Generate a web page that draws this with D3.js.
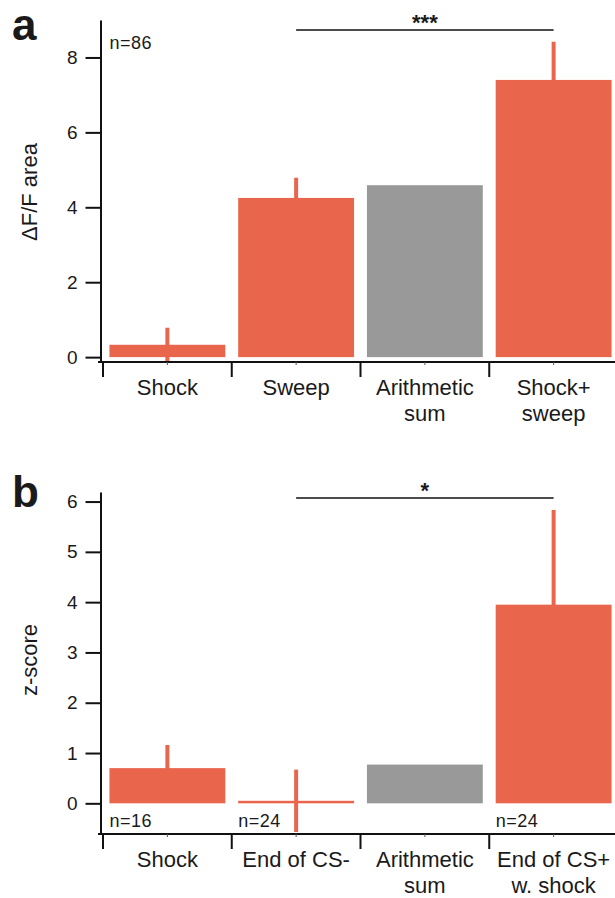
<!DOCTYPE html>
<html>
<head>
<meta charset="utf-8">
<script src="https://cdn.jsdelivr.net/npm/d3@7"></script>
<style>
  html, body { margin: 0; padding: 0; background: #fff; }
  svg text { font-family: "Liberation Sans", Arial, sans-serif; fill: #1a1a1a; }
</style>
</head>
<body>
<svg id="chart" width="615" height="898"></svg>
<script>
// ---------- data ----------
const categoriesA = [["Shock"], ["Sweep"], ["Arithmetic", "sum"], ["Shock+", "sweep"]];
const valuesA = [0.33, 4.25, 4.59, 7.40];
const errorsA = [0.455, 0.54, 0, 1.02];
const kindsA = ["measured", "measured", "sum", "measured"];
const ticksA = [0, 2, 4, 6, 8];
const nLabelsA = ["n=86", "", "", ""];

const categoriesB = [["Shock"], ["End of CS-"], ["Arithmetic", "sum"], ["End of CS+", "w. shock"]];
const valuesB = [0.70, 0.05, 0.77, 3.95];
const errorsB = [0.46, 0.62, 0, 1.88];
const kindsB = ["measured", "measured", "sum", "measured"];
const ticksB = [0, 1, 2, 3, 4, 5, 6];
const nLabelsB = ["n=16", "n=24", "", "n=24"];

const colors = { measured: "#E9654B", sum: "#999999" };

const svg = d3.select("#chart");

function panel(opts) {
  const g = svg.append("g");
  const idx = d3.range(opts.values.length);
  const x = d3.scaleBand().domain(idx).range([103, 618]).paddingInner(0.1).paddingOuter(0.05);
  const y = d3.scaleLinear().domain(opts.domain).range([opts.bottom, opts.top]);
  const half = x.step() * x.paddingInner() / 2;

  // bars
  g.selectAll("rect.bar").data(idx).join("rect")
    .attr("class", "bar")
    .attr("x", i => x(i))
    .attr("width", x.bandwidth())
    .attr("y", i => y(Math.max(0, opts.values[i])))
    .attr("height", i => Math.abs(y(opts.values[i]) - y(0)))
    .attr("fill", i => colors[opts.kinds[i]]);

  // error bars
  g.selectAll("line.err").data(idx.filter(i => opts.errors[i] > 0)).join("line")
    .attr("class", "err")
    .attr("x1", i => x(i) + x.bandwidth() / 2)
    .attr("x2", i => x(i) + x.bandwidth() / 2)
    .attr("y1", i => y(opts.values[i] - opts.errors[i]))
    .attr("y2", i => y(opts.values[i] + opts.errors[i]))
    .attr("stroke", colors.measured)
    .attr("stroke-width", 4);

  // y axis
  const yAxis = d3.axisLeft(y).tickValues(opts.ticks).tickFormat(d3.format("d"))
    .tickSize(15).tickPadding(8).tickSizeOuter(0);
  const ya = g.append("g").attr("transform", "translate(100.5,0)").call(yAxis);
  ya.select(".domain").attr("stroke", "#111").attr("stroke-width", 2);
  ya.selectAll(".tick line").attr("stroke", "#111").attr("stroke-width", 2);
  ya.selectAll(".tick text").attr("font-size", 19).attr("font-family", "Liberation Sans, Arial, sans-serif").attr("fill", "#1a1a1a");

  // x axis line
  g.append("line").attr("x1", 98).attr("x2", 615)
    .attr("y1", opts.bottom).attr("y2", opts.bottom)
    .attr("stroke", "#111").attr("stroke-width", 2);
  // boundary ticks
  g.selectAll("line.bt").data(idx).join("line").attr("class", "bt")
    .attr("x1", i => x(i) - half).attr("x2", i => x(i) - half)
    .attr("y1", opts.bottom).attr("y2", opts.bottom + 15)
    .attr("stroke", "#111").attr("stroke-width", 2);
  // tiny center ticks
  g.selectAll("line.ct").data(idx).join("line").attr("class", "ct")
    .attr("x1", i => x(i) + x.bandwidth() / 2).attr("x2", i => x(i) + x.bandwidth() / 2)
    .attr("y1", opts.bottom).attr("y2", opts.bottom + 3)
    .attr("stroke", "#555").attr("stroke-width", 1);

  // category labels
  const lab = g.selectAll("text.cat").data(idx).join("text").attr("class", "cat")
    .attr("x", i => x(i) + x.bandwidth() / 2)
    .attr("y", opts.bottom + 33)
    .attr("text-anchor", "middle")
    .attr("font-size", 22);
  lab.each(function(i) {
    const t = d3.select(this);
    opts.categories[i].forEach((line, k) => {
      t.append("tspan").attr("x", x(i) + x.bandwidth() / 2).attr("dy", k === 0 ? 0 : 26).text(line);
    });
  });

  // n labels
  g.selectAll("text.n").data(idx.filter(i => opts.nLabels[i])).join("text").attr("class", "n")
    .attr("x", i => x(i))
    .attr("y", opts.nY)
    .attr("font-size", 18)
    .attr("letter-spacing", 0.5)
    .text(i => opts.nLabels[i]);

  // y label
  g.append("text")
    .attr("transform", `translate(37,${opts.ylabelY}) rotate(-90)`)
    .attr("text-anchor", "middle")
    .attr("font-size", 22)
    .text(opts.ylabel);

  // panel letter
  g.append("text").attr("x", 12).attr("y", opts.letterY)
    .attr("font-size", 44).attr("font-weight", "bold").attr("fill", "#111")
    .text(opts.letter);

  // significance bracket
  const c1 = x(opts.sig[0]) + x.bandwidth() / 2, c2 = x(opts.sig[1]) + x.bandwidth() / 2;
  g.append("line").attr("x1", c1).attr("x2", c2)
    .attr("y1", opts.sigY).attr("y2", opts.sigY)
    .attr("stroke", "#111").attr("stroke-width", 1.5);
  g.append("text").attr("x", (c1 + c2) / 2).attr("y", opts.sigY)
    .attr("text-anchor", "middle").attr("font-size", 22).attr("font-weight", "bold")
    .text(opts.sigText);
}

panel({
  values: valuesA, errors: errorsA, kinds: kindsA, categories: categoriesA,
  ticks: ticksA, nLabels: nLabelsA, domain: [-0.13, 9.0], bottom: 362, top: 20,
  nY: 49, ylabel: "\u0394F/F area", ylabelY: 192, letter: "a", letterY: 40,
  sig: [1, 3], sigY: 30, sigText: "***"
});

panel({
  values: valuesB, errors: errorsB, kinds: kindsB, categories: categoriesB,
  ticks: ticksB, nLabels: nLabelsB, domain: [-0.61, 6.19], bottom: 834, top: 492,
  nY: 827, ylabel: "z-score", ylabelY: 660, letter: "b", letterY: 507,
  sig: [1, 3], sigY: 498, sigText: "*"
});
</script>
</body>
</html>
